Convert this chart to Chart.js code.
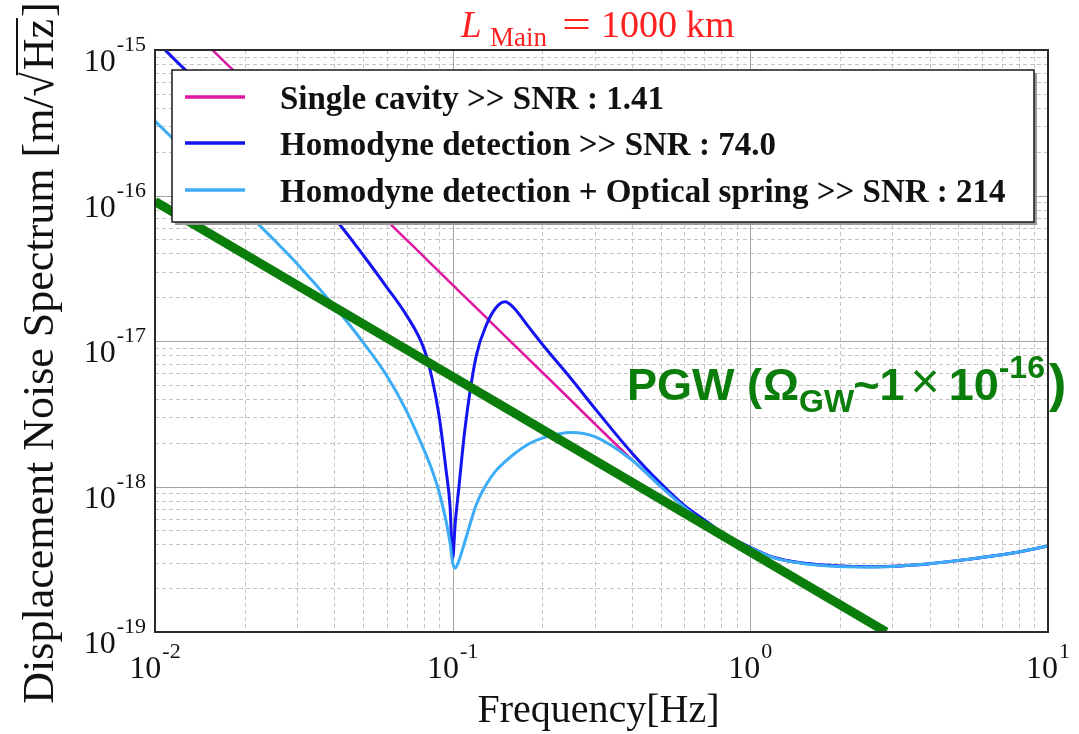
<!DOCTYPE html>
<html>
<head>
<meta charset="utf-8">
<title>Displacement noise spectrum</title>
<script src="https://cdn.jsdelivr.net/npm/chart.js@4.4.1/dist/chart.umd.min.js"></script>
<style>
    html, body { margin: 0; padding: 0; background: #ffffff; }
    #wrap { position: relative; width: 1079px; height: 734px; }
</style>
</head>
<body>
<div id="wrap"><canvas id="noiseChart"></canvas></div>
<script>
// Frequencies [Hz] shared by the three sensitivity curves
const freqs = [0.01, 0.012, 0.015, 0.02, 0.025, 0.03, 0.04, 0.05, 0.06, 0.07, 0.08, 0.085, 0.09, 0.095, 0.098,
    0.1, 0.102, 0.105, 0.11, 0.12, 0.13, 0.14, 0.15, 0.16, 0.18, 0.2, 0.25, 0.3, 0.4, 0.5, 0.6, 0.7, 0.8,
    1, 1.2, 1.5, 2, 2.5, 3, 4, 5, 6, 8, 10];

// Displacement noise [m/rtHz]
const singleCavity = [2.4e-15, 1.7e-15, 1.08e-15, 6.1e-16, 3.9e-16, 2.7e-16, 1.52e-16, 9.7e-17, 6.75e-17, 4.96e-17, 3.8e-17, 3.36e-17, 3.0e-17, 2.69e-17, 2.53e-17,
    2.43e-17, 2.34e-17, 2.2e-17, 2.01e-17, 1.69e-17, 1.44e-17, 1.24e-17, 1.08e-17, 9.5e-18, 7.5e-18, 6.1e-18, 3.9e-18, 2.7e-18, 1.53e-18, 1.0e-18, 7.2e-19, 5.75e-19, 4.75e-19,
    3.8e-19, 3.25e-19, 2.98e-19, 2.84e-19, 2.81e-19, 2.83e-19, 2.95e-19, 3.1e-19, 3.25e-19, 3.55e-19, 3.9e-19];

const homodyne = [1.17e-15, 8.1e-16, 5.2e-16, 2.92e-16, 1.86e-16, 1.28e-16, 7.0e-17, 3.9e-17, 2.35e-17, 1.5e-17, 8.9e-18, 5.7e-18, 3.07e-18, 1.3e-18, 7.3e-19,
    3.2e-19, 5.6e-19, 1.0e-18, 2.5e-18, 7.9e-18, 1.3e-17, 1.7e-17, 1.86e-17, 1.7e-17, 1.25e-17, 9.5e-18, 5.5e-18, 3.45e-18, 1.7e-18, 1.05e-18, 7.4e-19, 5.9e-19, 4.85e-19,
    3.82e-19, 3.25e-19, 2.98e-19, 2.84e-19, 2.81e-19, 2.83e-19, 2.95e-19, 3.1e-19, 3.25e-19, 3.55e-19, 3.9e-19];

const homodyneSpring = [3.25e-16, 2.25e-16, 1.43e-16, 7.9e-17, 5.0e-17, 3.4e-17, 1.74e-17, 9.8e-18, 5.8e-18, 3.3e-18, 1.8e-18, 1.32e-18, 9.2e-19, 5.8e-19, 4.1e-19,
    3.0e-19, 2.75e-19, 3.1e-19, 4.2e-19, 7.5e-19, 1.04e-18, 1.29e-18, 1.48e-18, 1.66e-18, 1.96e-18, 2.15e-18, 2.35e-18, 2.2e-18, 1.52e-18, 1.0e-18, 7.2e-19, 5.6e-19, 4.65e-19,
    3.78e-19, 3.23e-19, 2.96e-19, 2.82e-19, 2.8e-19, 2.82e-19, 2.94e-19, 3.1e-19, 3.25e-19, 3.55e-19, 3.9e-19];

// Primordial GW line (Omega_GW ~ 1e-16)
const pgwFreqs = [0.01, 2.86];
const pgwLevel = [9.1e-17, 1.0e-19];

const seriesLabels = [
    'Single cavity >> SNR : 1.41',
    'Homodyne detection >> SNR : 74.0',
    'Homodyne detection + Optical spring >> SNR : 214'
];

const xDecades = [-2, -1, 0, 1];
const yDecades = [-19, -18, -17, -16, -15];

const SERIF = '"Liberation Serif", "Times New Roman", serif';
const SANS = '"Liberation Sans", Arial, sans-serif';

function toPoints(xs, ys) {
    return xs.map((x, i) => ({ x: x, y: ys[i] }));
}

// Draw "10" with a raised exponent, anchored by align at (x, baseline)
function powerLabel(ctx, exp, x, baseline, align) {
    ctx.font = '32px ' + SERIF;
    const wBase = ctx.measureText('10').width;
    ctx.font = '22px ' + SERIF;
    const expText = String(exp);
    const wExp = ctx.measureText(expText).width;
    const total = wBase + wExp + 1;
    let start = x;
    if (align === 'center') start = x - total / 2;
    if (align === 'right') start = x - total;
    ctx.textAlign = 'left';
    ctx.textBaseline = 'alphabetic';
    ctx.font = '32px ' + SERIF;
    ctx.fillText('10', start, baseline);
    ctx.font = '22px ' + SERIF;
    ctx.fillText(expText, start + wBase + 1, baseline - 20);
}

const gridPlugin = {
    id: 'logGrid',
    beforeDatasetsDraw(chart) {
        const ctx = chart.ctx;
        const area = chart.chartArea;
        const xs = chart.scales.x;
        const ys = chart.scales.y;
        ctx.save();
        ctx.lineWidth = 1;

        // minor lines, dashed
        ctx.strokeStyle = '#c4c4c4';
        ctx.setLineDash([4, 3]);
        for (let d = -2; d < 1; d++) {
            for (let m = 2; m <= 9; m++) {
                const px = Math.round(xs.getPixelForValue(m * Math.pow(10, d))) + 0.5;
                ctx.beginPath();
                ctx.moveTo(px, area.top);
                ctx.lineTo(px, area.bottom);
                ctx.stroke();
            }
        }
        for (let d = -19; d < -15; d++) {
            for (let m = 2; m <= 9; m++) {
                const py = Math.round(ys.getPixelForValue(m * Math.pow(10, d))) + 0.5;
                ctx.beginPath();
                ctx.moveTo(area.left, py);
                ctx.lineTo(area.right, py);
                ctx.stroke();
            }
        }

        // decade lines, solid
        ctx.setLineDash([]);
        ctx.strokeStyle = '#a3a3a3';
        xDecades.forEach(d => {
            const px = Math.round(xs.getPixelForValue(Math.pow(10, d))) + 0.5;
            ctx.beginPath();
            ctx.moveTo(px, area.top);
            ctx.lineTo(px, area.bottom);
            ctx.stroke();
        });
        yDecades.forEach(d => {
            const py = Math.round(ys.getPixelForValue(Math.pow(10, d))) + 0.5;
            ctx.beginPath();
            ctx.moveTo(area.left, py);
            ctx.lineTo(area.right, py);
            ctx.stroke();
        });
        ctx.restore();
    },
    afterDraw(chart) {
        const ctx = chart.ctx;
        const area = chart.chartArea;
        const xs = chart.scales.x;
        const ys = chart.scales.y;
        ctx.save();

        // frame
        ctx.strokeStyle = '#2b2b2b';
        ctx.lineWidth = 2;
        ctx.strokeRect(area.left, area.top, area.right - area.left, area.bottom - area.top);

        // tick labels
        ctx.fillStyle = '#111111';
        xDecades.forEach(d => {
            powerLabel(ctx, d, xs.getPixelForValue(Math.pow(10, d)), area.bottom + 46, 'center');
        });
        yDecades.forEach(d => {
            powerLabel(ctx, d, area.left - 9, ys.getPixelForValue(Math.pow(10, d)) + 21, 'right');
        });

        // x axis title
        ctx.font = '40px ' + SERIF;
        ctx.textAlign = 'center';
        ctx.fillText('Frequency[Hz]', (area.left + area.right) / 2 - 3, 722);

        // y axis title with a square root over Hz
        ctx.save();
        ctx.translate(53, 355);
        ctx.rotate(-Math.PI / 2);
        ctx.font = '44px ' + SERIF;
        ctx.textAlign = 'left';
        const p1 = 'Displacement Noise Spectrum [m/';
        const p2 = '\u221A';
        const p3 = 'Hz';
        const p4 = ']';
        const w1 = ctx.measureText(p1).width;
        const w2 = ctx.measureText(p2).width;
        const w3 = ctx.measureText(p3).width;
        const w4 = ctx.measureText(p4).width;
        const sx = -(w1 + w2 + w3 + w4) / 2;
        ctx.fillText(p1, sx, 0);
        ctx.fillText(p2, sx + w1, 0);
        ctx.fillText(p3, sx + w1 + w2 + 2, 0);
        ctx.fillText(p4, sx + w1 + w2 + w3 + 4, 0);
        ctx.lineWidth = 2;
        ctx.strokeStyle = '#111111';
        ctx.beginPath();
        ctx.moveTo(sx + w1 + w2 - 3, -36);
        ctx.lineTo(sx + w1 + w2 + w3 + 3, -36);
        ctx.stroke();
        ctx.restore();

        // red title
        ctx.fillStyle = '#ff2020';
        ctx.textAlign = 'left';
        ctx.font = 'italic 37px ' + SERIF;
        ctx.fillText('L', 461, 37);
        ctx.font = '27px ' + SERIF;
        ctx.fillText('Main', 490, 46);
        ctx.font = '38px ' + SERIF;
        ctx.save();
        ctx.translate(562, 37);
        ctx.scale(1.35, 1);
        ctx.fillText('=', 0, 0);
        ctx.restore();
        ctx.fillText('1000', 601, 37);
        ctx.fillText('km', 686, 37);

        // legend box
        const box = { x: 172, y: 70, w: 862, h: 152 };
        ctx.fillStyle = '#9a9a9a';
        ctx.fillRect(box.x + 3, box.y + 3, box.w, box.h);
        ctx.fillStyle = '#ffffff';
        ctx.fillRect(box.x, box.y, box.w, box.h);
        ctx.strokeStyle = '#1a1a1a';
        ctx.lineWidth = 1.5;
        ctx.strokeRect(box.x, box.y, box.w, box.h);
        const rows = [97, 143, 190];
        chart.data.datasets.slice(0, 3).forEach((ds, i) => {
            ctx.strokeStyle = ds.borderColor;
            ctx.lineWidth = 3.5;
            ctx.beginPath();
            ctx.moveTo(185, rows[i]);
            ctx.lineTo(245, rows[i]);
            ctx.stroke();
            ctx.fillStyle = '#111111';
            ctx.font = 'bold 33px ' + SERIF;
            ctx.fillText(ds.label, 280, rows[i] + 12);
        });

        // PGW annotation
        ctx.fillStyle = '#0a7d0a';
        let tx = 627;
        const base = 400;
        const big = 'bold 45px ' + SANS;
        const small = 'bold 32px ' + SANS;
        const piece = (text, font, dy, gapAfter) => {
            ctx.font = font;
            ctx.fillText(text, tx, base + dy);
            tx += ctx.measureText(text).width + (gapAfter || 0);
        };
        piece('PGW (', big, 0, 1);
        piece('\u03A9', big, 0);
        piece('GW', small, 12, -1);
        piece('~1', big, 0, 6);
        piece('\u00D7', '50px ' + SANS, -2, 9);
        piece('10', big, 0);
        piece('-16', small, -22, 4);
        piece(')', 'bold 52px ' + SANS, 1);

        ctx.restore();
    }
};

function initNoiseChart() {
    const ctx = document.getElementById('noiseChart').getContext('2d');

    new Chart(ctx, {
        type: 'line',
        data: {
            datasets: [{
                label: seriesLabels[0],
                data: toPoints(freqs, singleCavity),
                borderColor: '#de18a0',
                borderWidth: 2.5,
                order: 3
            }, {
                label: seriesLabels[1],
                data: toPoints(freqs, homodyne),
                borderColor: '#1414f0',
                borderWidth: 3,
                order: 2
            }, {
                label: seriesLabels[2],
                data: toPoints(freqs, homodyneSpring),
                borderColor: '#3cacf6',
                borderWidth: 3,
                order: 1
            }, {
                label: 'PGW',
                data: toPoints(pgwFreqs, pgwLevel),
                borderColor: '#0a7d0a',
                borderWidth: 9,
                order: 0
            }]
        },
        options: {
            responsive: true,
            maintainAspectRatio: false,
            animation: false,
            layout: {
                padding: { left: 155, right: 31, top: 50, bottom: 102 }
            },
            elements: {
                point: { radius: 0 },
                line: { cubicInterpolationMode: 'monotone', fill: false }
            },
            scales: {
                x: { type: 'logarithmic', min: 0.01, max: 10, display: false },
                y: { type: 'logarithmic', min: 1e-19, max: 1e-15, display: false }
            },
            plugins: {
                legend: { display: false },
                tooltip: { enabled: false }
            }
        },
        plugins: [gridPlugin]
    });
}

document.addEventListener('DOMContentLoaded', initNoiseChart);
</script>
</body>
</html>
